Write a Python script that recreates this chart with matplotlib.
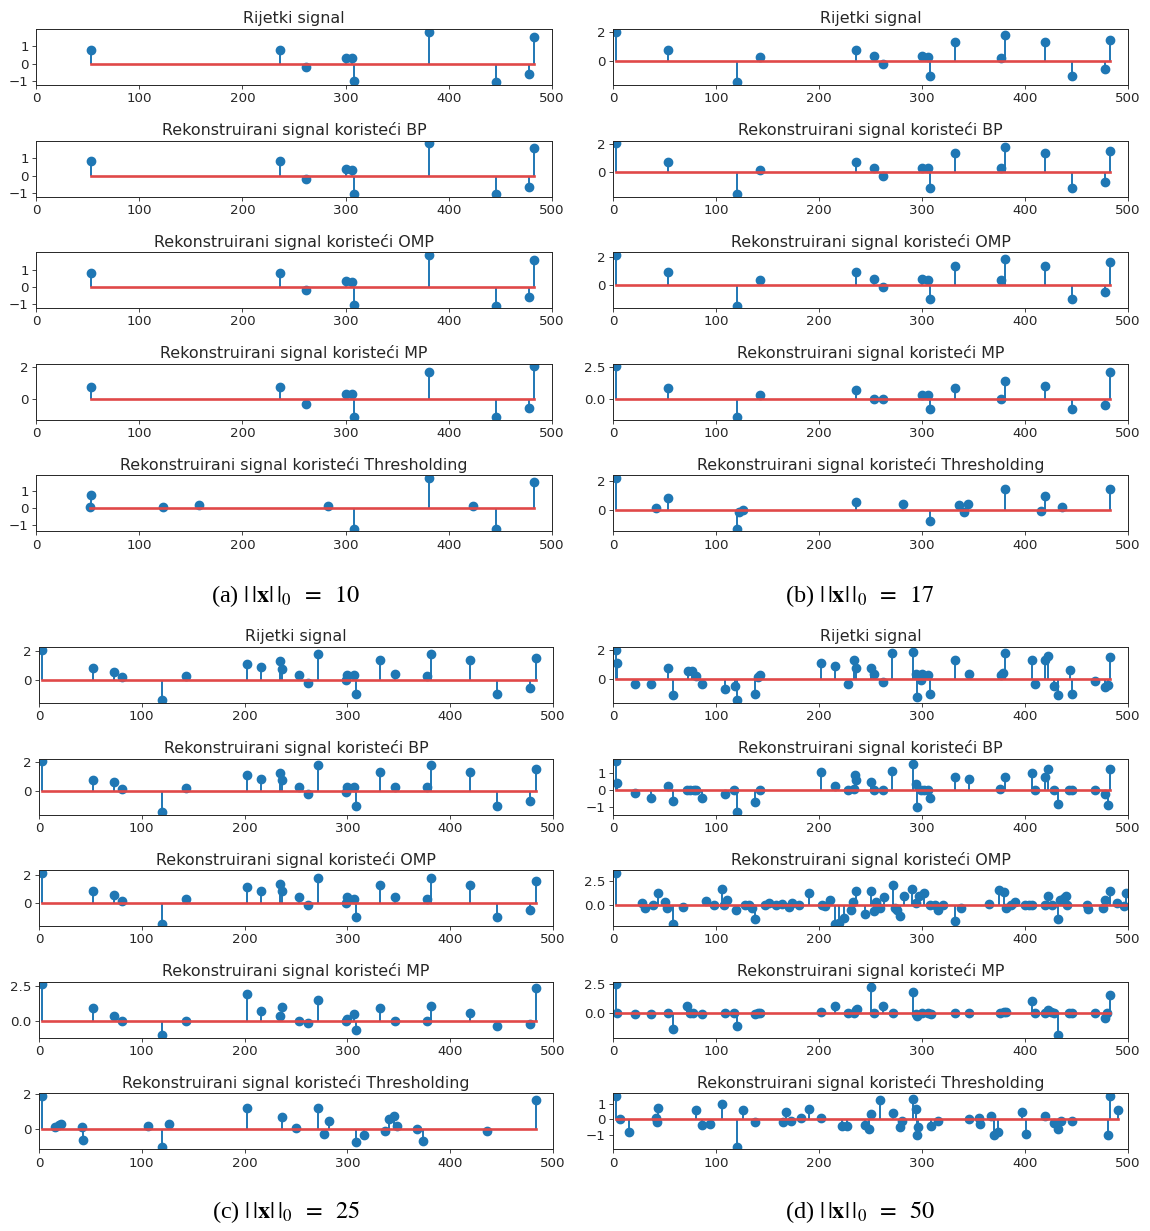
import matplotlib
matplotlib.use('Agg')
import matplotlib.pyplot as plt

plt.rcParams['font.family'] = ['DejaVu Sans']
plt.rcParams['mathtext.fontset'] = 'stix'

# ---------------- data ----------------
TITLES = ["Rijetki signal",
          "Rekonstruirani signal koristeći BP",
          "Rekonstruirani signal koristeći OMP",
          "Rekonstruirani signal koristeći MP",
          "Rekonstruirani signal koristeći Thresholding"]
CAPTIONS = [r"(a) $|\,|\mathbf{x}|\,|_0\;\;=\;\;10$", r"(b) $|\,|\mathbf{x}|\,|_0\;\;=\;\;17$",
            r"(c) $|\,|\mathbf{x}|\,|_0\;\;=\;\;25$", r"(d) $|\,|\mathbf{x}|\,|_0\;\;=\;\;50$"]
X_TICKS = [0, 100, 200, 300, 400, 500]

# panel (a)  ||x||_0 = 10
A_IDX = [53, 236, 262, 300, 306, 308, 381, 446, 478, 483]
A_SIG = [0.80, 0.80, -0.18, 0.35, 0.30, -1.00, 1.85, -1.08, -0.58, 1.52]
A_BP = [0.85, 0.85, -0.22, 0.40, 0.30, -1.05, 1.85, -1.05, -0.62, 1.60]
A_OMP = [0.80, 0.80, -0.18, 0.35, 0.30, -1.02, 1.85, -1.08, -0.60, 1.52]
A_MP = [0.75, 0.75, -0.25, 0.33, 0.33, -1.10, 1.73, -1.10, -0.52, 2.05]
A_TH_IDX = [52, 53, 123, 158, 283, 308, 381, 423, 446, 483]
A_TH = [0.05, 0.78, 0.05, 0.22, 0.12, -1.22, 1.80, 0.12, -1.22, 1.56]

# panel (b)  ||x||_0 = 17
B_IDX = [3, 53, 120, 143, 236, 253, 262, 300, 306, 308, 332, 377, 381, 419, 446, 478, 483]
B_SIG = [2.05, 0.80, -1.47, 0.28, 0.80, 0.35, -0.22, 0.35, 0.30, -1.02, 1.33, 0.25, 1.78, 1.33, -1.02, -0.57, 1.50]
B_BP = [2.05, 0.75, -1.54, 0.19, 0.75, 0.31, -0.25, 0.30, 0.30, -1.08, 1.33, 0.30, 1.81, 1.33, -1.08, -0.70, 1.52]
B_OMP = [2.15, 0.89, -1.52, 0.31, 0.89, 0.41, -0.17, 0.38, 0.30, -1.04, 1.33, 0.30, 1.86, 1.33, -1.04, -0.55, 1.64]
B_MP = [2.55, 0.90, -1.37, 0.31, 0.70, 0.00, 0.00, 0.31, 0.31, -0.72, 0.90, 0.00, 1.39, 1.00, -0.72, -0.41, 2.11]
B_TH_IDX = [3, 42, 53, 120, 122, 126, 236, 282, 308, 336, 341, 345, 381, 416, 419, 436, 483]
B_TH = [2.18, 0.18, 0.80, -1.25, -0.10, 0.00, 0.57, 0.45, -0.73, 0.35, -0.10, 0.45, 1.43, -0.05, 0.98, 0.20, 1.43]

# panel (c)  ||x||_0 = 25
C_IDX = [3, 53, 73, 81, 120, 143, 202, 216, 234, 236, 253, 262, 271, 299, 300, 306, 308,
         332, 346, 377, 381, 419, 446, 478, 483]
C_SIG = [2.07, 0.79, 0.54, 0.16, -1.42, 0.28, 1.06, 0.88, 1.28, 0.76, 0.34, -0.22, 1.78, -0.05,
         0.35, 0.30, -1.01, 1.33, 0.36, 0.28, 1.78, 1.33, -1.01, -0.56, 1.50]
C_BP = [2.05, 0.72, 0.60, 0.08, -1.49, 0.19, 1.10, 0.84, 1.20, 0.72, 0.26, -0.24, 1.80, -0.12,
        0.26, 0.26, -1.08, 1.32, 0.26, 0.26, 1.80, 1.32, -1.08, -0.72, 1.52]
C_OMP = [2.20, 0.85, 0.60, 0.15, -1.54, 0.28, 1.17, 0.85, 1.34, 0.85, 0.41, -0.20, 1.83, -0.05,
         0.40, 0.30, -1.05, 1.33, 0.40, 0.30, 1.83, 1.33, -1.05, -0.56, 1.63]
C_MP = [2.62, 0.90, 0.34, 0.00, -1.05, 0.00, 1.94, 0.71, 0.37, 0.98, 0.00, -0.20, 1.47, 0.00,
        0.15, 0.49, -0.69, 0.90, 0.00, 0.00, 1.08, 0.59, -0.39, -0.27, 2.33]
C_TH_IDX = [3, 16, 19, 21, 42, 43, 106, 120, 126, 202, 236, 250, 271, 277, 282, 308, 316,
            337, 340, 345, 348, 368, 374, 436, 483]
C_TH = [1.90, 0.10, 0.25, 0.30, 0.10, -0.64, 0.15, -1.04, 0.30, 1.22, 0.70, 0.05, 1.22, -0.28,
        0.46, -0.74, -0.34, -0.10, 0.54, 0.74, 0.15, 0.00, -0.70, -0.10, 1.66]

# panel (d)  ||x||_0 = 50
D_SIG_IDX = [3, 4, 21, 37, 53, 58, 73, 77, 81, 86, 109, 118, 120, 138, 141, 143, 202, 216,
             228, 234, 236, 250, 253, 262, 271, 291, 294, 295, 299, 300, 306, 308, 332, 346,
             377, 379, 381, 407, 410, 419, 422, 428, 432, 444, 446, 468, 478, 481, 483]
D_SIG = [2.05, 1.15, -0.35, -0.35, 0.80, -1.10, 0.55, 0.60, 0.20, -0.30, -0.65, -0.45, -1.45,
         -1.00, 0.15, 0.30, 1.10, 0.90, -0.30, 1.30, 0.80, 0.80, 0.35, -0.15, 1.80, 1.90, 0.35,
         -1.20, -0.05, 0.35, 0.30, -1.00, 1.35, 0.40, 0.30, 0.45, 1.80, 1.30, -0.30, 1.35, 1.60,
         -0.45, -1.10, 0.65, -1.00, -0.10, -0.50, -0.40, 1.55]
D_BP_IDX = [3, 4, 21, 37, 53, 58, 72, 75, 79, 81, 86, 109, 117, 120, 138, 143, 202, 216, 228,
            234, 235, 236, 250, 253, 262, 271, 291, 294, 295, 299, 302, 306, 308, 332, 346, 376,
            381, 407, 410, 419, 422, 428, 432, 443, 446, 468, 478, 481, 483]
D_BP = [1.70, 0.38, -0.19, -0.50, 0.25, -0.68, 0.00, 0.00, 0.00, 0.00, -0.50, -0.25, 0.00,
        -1.32, -0.74, 0.00, 1.03, 0.25, 0.00, 0.05, 0.88, 0.56, 0.45, 0.00, 0.00, 1.09, 1.55,
        0.33, -1.01, 0.00, 0.00, 0.00, -0.50, 0.76, 0.64, 0.05, 0.76, 1.02, 0.00, 0.76, 1.26,
        0.00, -0.84, 0.00, 0.00, 0.00, -0.25, -0.91, 1.26]
D_OMP_IDX = [3, 28, 31, 39, 44, 50, 52, 58, 68, 90, 98, 106, 108, 111, 119, 128, 132, 135, 138,
             148, 151, 158, 164, 171, 174, 181, 190, 203, 206, 211, 216, 219, 224, 231, 233, 236,
             245, 250, 253, 255, 259, 263, 272, 274, 276, 279, 283, 290, 294, 297, 302, 308, 313,
             316, 320, 332, 338, 365, 375, 380, 382, 386, 390, 400, 404, 407, 419, 422, 426, 432,
             434, 438, 440, 441, 460, 461, 476, 478, 483, 489, 496, 498]
D_OMP = [3.40, 0.29, -0.30, 0.00, 1.27, 0.30, -0.30, -1.92, -0.20, 0.40, 0.00, 1.70, 0.00, 0.54,
         -0.50, 0.00, 0.00, -0.30, -1.45, 0.00, 0.20, 0.00, 0.10, -0.20, 0.20, 0.00, 1.27, 0.00,
         -0.10, 0.50, -1.92, -1.80, -1.30, -0.50, 0.30, 1.52, -0.90, 1.52, -0.60, 0.30, -0.30,
         0.90, 2.13, -0.30, -0.50, -1.09, 0.98, 1.70, 0.20, 1.00, 1.27, 0.00, 0.00, -0.50, 0.00,
         -1.63, -0.30, 0.10, 1.60, 1.40, -0.30, 0.00, 0.30, 0.00, 0.00, 0.00, 0.00, 1.00, 0.00,
         -1.40, 0.50, 0.80, 1.00, 0.00, 0.00, -0.40, -0.30, 0.60, 1.50, 0.20, -0.10, 1.30]
D_MP_IDX = [3, 4, 21, 37, 53, 58, 72, 75, 78, 86, 109, 117, 120, 138, 141, 143, 202, 216, 228,
            234, 236, 237, 250, 253, 262, 272, 291, 294, 295, 300, 306, 309, 332, 346, 376, 380,
            382, 407, 410, 419, 422, 425, 428, 432, 443, 446, 468, 478, 480, 483]
D_MP = [2.50, 0.05, -0.10, -0.10, 0.00, -1.41, 0.59, 0.00, 0.00, -0.10, 0.00, 0.00, -1.15, -0.10,
        0.00, 0.00, 0.10, 0.60, 0.00, 0.00, 0.30, 0.40, 2.26, 0.00, 0.60, 0.00, 1.82, -0.10,
        -0.25, 0.00, 0.00, -0.10, 0.00, 0.00, 0.00, 0.10, 0.10, 1.09, 0.00, 0.00, 0.30, 0.10,
        0.05, -1.91, 0.00, 0.00, 0.00, -0.40, 0.00, 1.62]
D_TH_IDX = [3, 7, 16, 42, 43, 44, 81, 86, 94, 106, 120, 126, 138, 165, 168, 173, 183, 190, 202,
            222, 227, 245, 249, 250, 259, 272, 279, 281, 291, 294, 295, 296, 309, 316, 346, 355,
            356, 367, 370, 374, 397, 401, 419, 428, 432, 435, 446, 481, 483, 490]
D_TH = [1.51, 0.05, -0.80, 0.10, -0.15, 0.76, 0.62, -0.35, -0.30, 1.00, -1.80, 0.60, -0.20,
        -0.20, 0.50, -0.10, 0.10, 0.70, 0.10, -0.45, -0.45, -0.35, -0.60, 0.35, 1.29, 0.40, -0.50,
        -0.10, 1.36, 0.70, -1.00, -0.50, -0.45, -0.10, 0.05, 0.10, -0.30, 0.20, -1.00, -0.85,
        0.45, -0.95, 0.20, -0.25, -0.65, -0.10, -0.10, -1.00, 1.53, 0.60]

# y tick values for each subplot
A_YTICKS = [[-1, 0, 1], [-1, 0, 1], [-1, 0, 1], [0, 2], [-1, 0, 1]]
B_YTICKS = [[0, 2], [0, 2], [0, 2], [0, 2.5], [0, 2]]
C_YTICKS = [[0, 2], [0, 2], [0, 2], [0, 2.5], [0, 2]]
D_YTICKS = [[0, 2], [-1, 0, 1], [0, 2.5], [0, 2.5], [-1, 0, 1]]

PANELS = [
    dict(series=[(A_IDX, A_SIG), (A_IDX, A_BP), (A_IDX, A_OMP), (A_IDX, A_MP), (A_TH_IDX, A_TH)],
         yticks=A_YTICKS, left=36, right=552, top=29),
    dict(series=[(B_IDX, B_SIG), (B_IDX, B_BP), (B_IDX, B_OMP), (B_IDX, B_MP), (B_TH_IDX, B_TH)],
         yticks=B_YTICKS, left=613, right=1128, top=29),
    dict(series=[(C_IDX, C_SIG), (C_IDX, C_BP), (C_IDX, C_OMP), (C_IDX, C_MP), (C_TH_IDX, C_TH)],
         yticks=C_YTICKS, left=39, right=553, top=647),
    dict(series=[(D_SIG_IDX, D_SIG), (D_BP_IDX, D_BP), (D_OMP_IDX, D_OMP), (D_MP_IDX, D_MP),
                 (D_TH_IDX, D_TH)],
         yticks=D_YTICKS, left=613, right=1128, top=647),
]
CAPTION_POS = [(286, 596), (860, 596), (286, 1212), (860, 1212)]

# ---------------- drawing ----------------
W, H = 1150, 1231
fig = plt.figure(figsize=(W / 100, H / 100), dpi=100)

ROW_STEP = 111.6
AX_H = 56
TXT = '#262626'
BASE_RED = '#e04848'

for p in PANELS:
    for r, ((xi, yv), yt) in enumerate(zip(p['series'], p['yticks'])):
        top = p['top'] + r * ROW_STEP
        ax = fig.add_axes([p['left'] / W, 1 - (top + AX_H) / H,
                           (p['right'] - p['left']) / W, AX_H / H])
        ml, sl, bl = ax.stem(xi, yv, linefmt='C0-', markerfmt='C0o', basefmt='C3-')
        plt.setp(ml, markersize=6.0)
        plt.setp(sl, linewidth=1.4)
        plt.setp(bl, linewidth=1.9, color=BASE_RED)
        ax.set_xlim(0, 500)
        ax.set_xticks(X_TICKS)
        ax.set_yticks(yt)
        ax.set_title(TITLES[r], fontsize=11.4, pad=4.0, color=TXT)
        ax.tick_params(labelsize=9.6, length=2.8, width=0.6, pad=2.4, colors=TXT)
        for s in ax.spines.values():
            s.set_linewidth(0.7)
            s.set_color(TXT)

for (cx, cy), cap in zip(CAPTION_POS, CAPTIONS):
    fig.text(cx / W, 1 - cy / H, cap, ha='center', va='center', fontsize=17.5,
             family='Liberation Serif')

fig.savefig('out.png', dpi=100)
